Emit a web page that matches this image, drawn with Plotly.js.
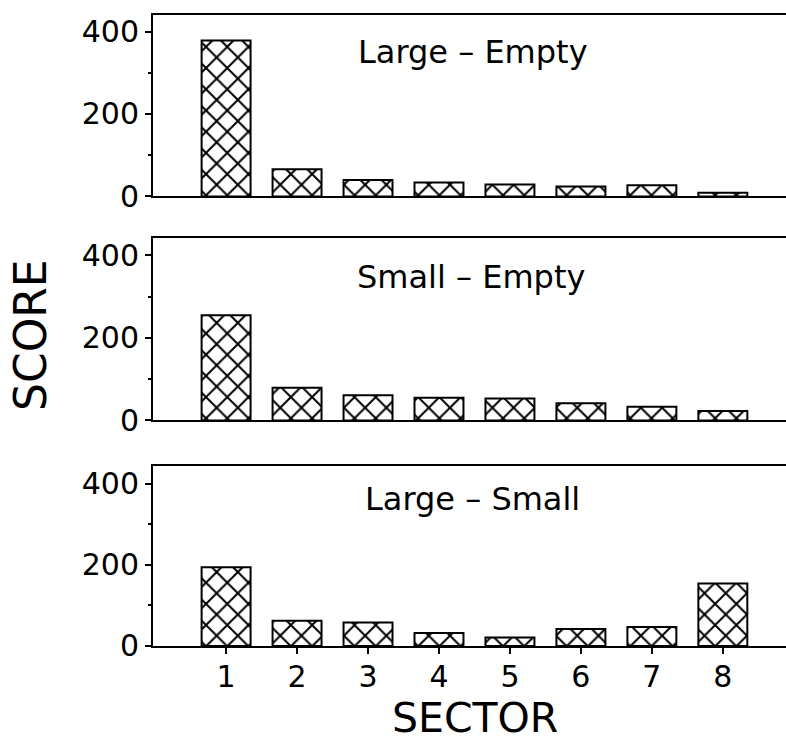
<!DOCTYPE html>
<html>
<head>
<meta charset="utf-8">
<script src="https://cdn.plot.ly/plotly-3.0.1.min.js"></script>
<style>html,body{margin:0;padding:0;background:#fff;}#chart{width:786px;height:745px;}</style>
</head>
<body>
<div id="chart"></div>
<script>
var sectors = [1, 2, 3, 4, 5, 6, 7, 8];
var largeEmpty = [378, 66, 40, 34, 29, 24, 27, 9];
var smallEmpty = [255, 79, 61, 55, 53, 42, 33, 23];
var largeSmall = [194, 62, 58, 32, 21, 42, 47, 154];
var panelTitles = ['Large \u2013 Empty', 'Small \u2013 Empty', 'Large \u2013 Small'];
var yTitle = 'SCORE';
var xTitle = 'SECTOR';

var FONT = 'DejaVu Sans';
function barTrace(vals, xa, ya) {
  return {
    type: 'bar', x: sectors, y: vals, xaxis: xa, yaxis: ya, width: 0.69,
    marker: {
      color: '#fff',
      line: {color: '#000', width: 2},
      pattern: {shape: 'x', size: 15, solidity: 0.25, fgcolor: '#000', bgcolor: '#fff', fillmode: 'replace'}
    },
    showlegend: false, hoverinfo: 'skip'
  };
}
var data = [
  barTrace(largeEmpty, 'x', 'y'),
  barTrace(smallEmpty, 'x2', 'y2'),
  barTrace(largeSmall, 'x3', 'y3')
];

var doms = [[0.7124, 1], [0.3574, 0.6466], [0, 0.2853]];
var ranges = [[0, 440], [0, 442], [0, 444]];
var xr = [-0.03, 8.89];

function xax(anchor, show) {
  return {
    domain: [0, 1], anchor: anchor, range: xr, showline: true, linecolor: '#000', linewidth: 2,
    mirror: true, showgrid: false, zeroline: false, tickmode: 'array', tickvals: sectors,
    ticktext: sectors.map(String), showticklabels: show, ticks: show ? 'outside' : '',
    ticklen: 6, tickwidth: 2, tickcolor: '#000', tickfont: {family: FONT, size: 30, color: '#000'},
    ticklabelstandoff: -3, fixedrange: true
  };
}
function yax(i, anchor) {
  return {
    domain: doms[i], anchor: anchor, range: ranges[i], showline: true, linecolor: '#000', linewidth: 2,
    mirror: false, showgrid: false, zeroline: false, tickmode: 'linear', tick0: 0, dtick: 200,
    ticks: 'outside', ticklen: 6, tickwidth: 2, tickcolor: '#000',
    tickfont: {family: FONT, size: 30, color: '#000'}, ticklabelstandoff: 0,
    minor: {tickmode: 'linear', tick0: 0, dtick: 100, ticks: 'outside', ticklen: 3, tickwidth: 2, tickcolor: '#000'},
    fixedrange: true
  };
}
function yov(i, over, anchor) {
  return {
    domain: doms[i], anchor: anchor, overlaying: over, range: ranges[i], showline: false, showgrid: false,
    zeroline: false, tickmode: 'linear', tick0: 0, dtick: 200, ticks: 'inside', ticklen: 6, tickwidth: 2,
    tickcolor: '#000', showticklabels: false,
    minor: {tickmode: 'linear', tick0: 0, dtick: 100, ticks: 'inside', ticklen: 3, tickwidth: 2, tickcolor: '#000'},
    fixedrange: true
  };
}

var annFont = {family: FONT, size: 32, color: '#000'};
var layout = {
  width: 786, height: 745,
  margin: {l: 153, r: 0, t: 15, b: 99, pad: 0},
  paper_bgcolor: '#fff', plot_bgcolor: '#fff',
  bargap: 0.31,
  xaxis: xax('y', false),
  xaxis2: xax('y2', false),
  xaxis3: xax('y3', true),
  yaxis: yax(0, 'x'),
  yaxis2: yax(1, 'x2'),
  yaxis3: yax(2, 'x3'),
  yaxis4: yov(0, 'y', 'x'),
  yaxis5: yov(1, 'y2', 'x2'),
  yaxis6: yov(2, 'y3', 'x3'),
  annotations: [
    {xref: 'paper', yref: 'paper', x: 0.5055, y: 0.9414, text: panelTitles[0], showarrow: false, font: annFont, xanchor: 'center', yanchor: 'middle'},
    {xref: 'paper', yref: 'paper', x: 0.5023, y: 0.5848, text: panelTitles[1], showarrow: false, font: annFont, xanchor: 'center', yanchor: 'middle'},
    {xref: 'paper', yref: 'paper', x: 0.5055, y: 0.233, text: panelTitles[2], showarrow: false, font: annFont, xanchor: 'center', yanchor: 'middle'},
    {xref: 'paper', yref: 'paper', x: -0.1927, y: 0.4929, text: yTitle, showarrow: false, textangle: -90, font: {family: FONT, size: 44, color: '#000'}, xanchor: 'center', yanchor: 'middle'},
    {xref: 'paper', yref: 'paper', x: 0.5087, y: -0.1553, text: xTitle, showarrow: false, font: {family: FONT, size: 41, color: '#000'}, xanchor: 'center', yanchor: 'bottom'}
  ]
};
Plotly.newPlot('chart', data, layout, {staticPlot: true, displayModeBar: false});
</script>
</body>
</html>
